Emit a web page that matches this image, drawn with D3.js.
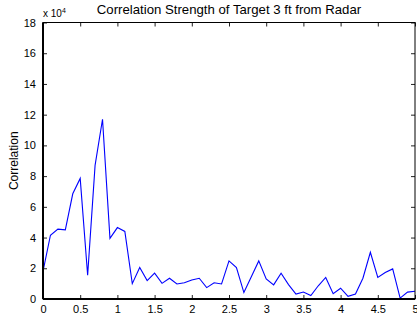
<!DOCTYPE html>
<html>
<head>
<meta charset="utf-8">
<script src="https://cdn.jsdelivr.net/npm/d3@7"></script>
<style>
  html, body { margin: 0; padding: 0; background: #fff; }
  svg { display: block; }
  text { font-family: "Liberation Sans", Arial, Helvetica, sans-serif; fill: #000; }
</style>
</head>
<body>
<svg id="chart" width="417" height="321"></svg>
<script>
// Distance from radar (ft), sampled every 0.1
const distance = [
  0.0, 0.1, 0.2, 0.3, 0.4, 0.5, 0.6, 0.7, 0.8, 0.9,
  1.0, 1.1, 1.2, 1.3, 1.4, 1.5, 1.6, 1.7, 1.8, 1.9,
  2.0, 2.1, 2.2, 2.3, 2.4, 2.5, 2.6, 2.7, 2.8, 2.9,
  3.0, 3.1, 3.2, 3.3, 3.4, 3.5, 3.6, 3.7, 3.8, 3.9,
  4.0, 4.1, 4.2, 4.3, 4.4, 4.5, 4.6, 4.7, 4.8, 4.9, 5.0
];
// Correlation strength, in units of 10^4
const correlation = [
  1.80, 4.15, 4.55, 4.50, 6.85, 7.85, 1.55, 8.70, 11.70, 3.95,
  4.65, 4.40, 1.00, 2.05, 1.20, 1.68, 1.02, 1.35, 0.98, 1.06,
  1.24, 1.35, 0.74, 1.06, 0.98, 2.48, 2.05, 0.42, 1.45, 2.48,
  1.30, 0.92, 1.68, 0.94, 0.32, 0.45, 0.23, 0.86, 1.40, 0.34,
  0.70, 0.17, 0.32, 1.35, 3.04, 1.40, 1.72, 1.96, 0.06, 0.45, 0.50
];
const xTicks = [0, 0.5, 1, 1.5, 2, 2.5, 3, 3.5, 4, 4.5, 5];
const yTicks = [0, 2, 4, 6, 8, 10, 12, 14, 16, 18];

const svg = d3.select("#chart");
const m = { left: 43, right: 2, top: 22.5, bottom: 22 };
const W = 417, H = 321;

const x = d3.scaleLinear().domain([0, 5]).range([m.left, W - m.right]);
const y = d3.scaleLinear().domain([0, 18]).range([H - m.bottom, m.top]);

const tickLen = 4;

// Plot line
svg.append("path")
  .datum(distance.map((d, i) => [d, correlation[i]]))
  .attr("fill", "none")
  .attr("stroke", "#0000ff")
  .attr("stroke-width", 1.1)
  .attr("stroke-linejoin", "miter")
  .attr("d", d3.line().x(d => x(d[0])).y(d => y(d[1])));

// Bottom axis (ticks pointing inward)
const gx = svg.append("g")
  .attr("transform", `translate(0,${y(0)})`)
  .call(d3.axisBottom(x).tickValues(xTicks).tickSize(-tickLen).tickPadding(6)
    .tickFormat(d => d3.format("")(d)));
gx.selectAll("text").attr("dy", "0.71em").style("font-size", "11px");

// Top axis ticks
svg.append("g")
  .attr("transform", `translate(0,${y(18)})`)
  .call(d3.axisTop(x).tickValues(xTicks).tickSize(-tickLen).tickFormat(""));

// Left axis
const gy = svg.append("g")
  .attr("transform", `translate(${x(0)},0)`)
  .call(d3.axisLeft(y).tickValues(yTicks).tickSize(-tickLen).tickPadding(7));
gy.selectAll("text").style("font-size", "11px");

// Right axis ticks
svg.append("g")
  .attr("transform", `translate(${x(5)},0)`)
  .call(d3.axisRight(y).tickValues(yTicks).tickSize(-tickLen).tickFormat(""));

svg.selectAll(".domain").remove();
svg.selectAll(".tick line").attr("stroke", "#222").attr("stroke-width", 1);

// Axes box
svg.append("rect")
  .attr("x", x(0)).attr("y", y(18))
  .attr("width", x(5) - x(0)).attr("height", y(0) - y(18))
  .attr("fill", "none").attr("stroke", "#000").attr("stroke-width", 1);
svg.append("line")
  .attr("x1", x(0)).attr("x2", x(0)).attr("y1", y(18)).attr("y2", y(0))
  .attr("stroke", "#000").attr("stroke-width", 2);
svg.append("line")
  .attr("x1", x(0)).attr("x2", x(5)).attr("y1", y(0)).attr("y2", y(0))
  .attr("stroke", "#000").attr("stroke-width", 2);

// Exponent label
const ex = svg.append("text").attr("x", x(0)).attr("y", 17).style("font-size", "10px");
ex.append("tspan").text("x 10");
ex.append("tspan").attr("dy", -4).style("font-size", "7px").text("4");

// Title
svg.append("text")
  .attr("x", (x(0) + x(5)) / 2).attr("y", 14)
  .attr("text-anchor", "middle").style("font-size", "13.2px")
  .text("Correlation Strength of Target 3 ft from Radar");

// Y label
svg.append("text")
  .attr("transform", `translate(18,${(y(0) + y(18)) / 2}) rotate(-90)`)
  .attr("text-anchor", "middle").style("font-size", "12px")
  .text("Correlation");
</script>
</body>
</html>
